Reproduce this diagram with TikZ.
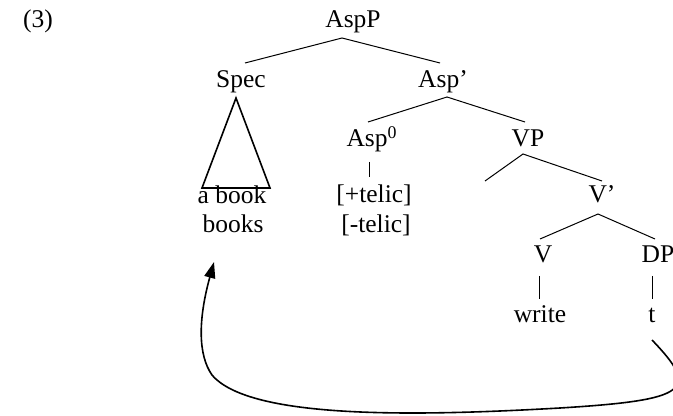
\documentclass[tikz,border=0pt]{standalone}
\usepackage{fontspec}
\setmainfont{Liberation Serif}
\usetikzlibrary{arrows.meta}
\begin{document}
\begin{tikzpicture}[x=0.5pt,y=-0.5pt,
  lbl/.style={anchor=base,inner sep=0pt,font=\fontsize{12.75}{15}\selectfont},
  branch/.style={line width=0.5pt},
  tri/.style={line width=0.8pt,line join=miter},
  move/.style={line width=0.8pt,-{Triangle[length=8pt,width=5.5pt]}}]
\useasboundingbox (0,0) rectangle (673,416);
% labels
\node[lbl] (ex) at (38,28) {(3)};
\node[lbl] (AspP) at (353,28) {AspP};
\node[lbl] (Spec) at (241,88) {Spec};
\node[lbl] (Aspb) at (443,88) {Asp’};
\node[lbl] (Asp0) at (372,147) {Asp$^{\mathrm{0}}$};
\node[lbl] (VP) at (528,147) {VP};
\node[lbl] (abook) at (232,204) {a book};
\node[lbl] (books) at (233,233) {books};
\node[lbl] (ptel) at (374,203) {[+telic]};
\node[lbl] (mtel) at (376,233) {[-telic]};
\node[lbl] (Vb) at (602,203) {V’};
\node[lbl] (V) at (543,263) {V};
\node[lbl] (DP) at (658,263) {DP};
\node[lbl] (write) at (540,322) {write};
\node[lbl] (t) at (652,322) {t};
% branch points
\coordinate (a0) at (342,38);
\coordinate (a1) at (245,63);
\coordinate (a2) at (440,63);
\coordinate (b0) at (447,97);
\coordinate (b1) at (368,122);
\coordinate (b2) at (525,122);
\coordinate (c0) at (369,162);
\coordinate (c1) at (369,177);
\coordinate (d0) at (523,154);
\coordinate (d1) at (485,181);
\coordinate (d2) at (602,181);
\coordinate (e0) at (598,214);
\coordinate (e1) at (540,239);
\coordinate (e2) at (655,239);
\coordinate (f0) at (539,276);
\coordinate (f1) at (539,299);
\coordinate (g0) at (652,276);
\coordinate (g1) at (652,299);
\coordinate (s0) at (236,98);
\coordinate (s1) at (202,188);
\coordinate (s2) at (270,188);
\coordinate (m0) at (652,340);
\coordinate (m1) at (560,408);
\coordinate (m2) at (212,375);
\coordinate (m3) at (214,262);
% branches
\draw[branch] (a1) -- (a0) -- (a2);
\draw[branch] (b1) -- (b0) -- (b2);
\draw[branch] (c0) -- (c1);
\draw[branch] (d1) -- (d0) -- (d2);
\draw[branch] (e1) -- (e0) -- (e2);
\draw[branch] (f0) -- (f1);
\draw[branch] (g0) -- (g1);
\draw[tri] (s0) -- (s1) -- (s2) -- cycle;
% movement arrow
\draw[move] (m0) .. controls (700,390) and (690,400) .. (m1)
  .. controls (420,416) and (250,420) .. (m2)
  .. controls (198,355) and (198,320) .. (m3);
\end{tikzpicture}
\end{document}
